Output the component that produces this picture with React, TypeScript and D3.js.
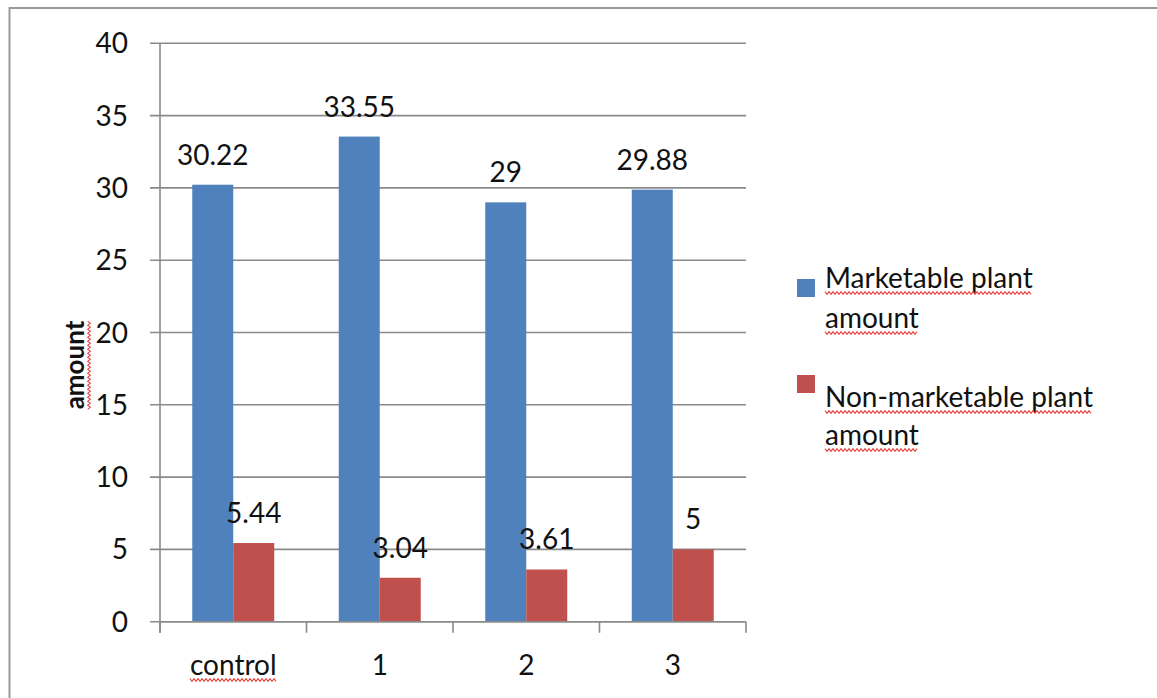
import { useEffect, useRef } from "react";
import * as d3 from "d3";

const categories = ["control", "1", "2", "3"];
const marketable = [30.22, 33.55, 29, 29.88];
const nonMarketable = [5.44, 3.04, 3.61, 5];
const seriesColors = ["#4F81BD", "#C0504D"];
const legendLines = [
  ["Marketable plant", "amount"],
  ["Non-marketable plant", "amount"],
];
const yTicks = [0, 5, 10, 15, 20, 25, 30, 35, 40];
const yTitle = "amount";
// words that carry the red spell-check wave in the original screenshot
const squiggled = new Set(["control", "amount", "Marketable plant", "Non-marketable plant"]);

const FONT = "Lato, 'Liberation Sans', sans-serif";

export default function App() {
  const svgRef = useRef<SVGSVGElement | null>(null);
  const width = 1157;
  const height = 698;

  useEffect(() => {
    if (!svgRef.current) return;
    const svg = d3.select(svgRef.current);
    svg.selectAll("*").remove();

    const left = 160;
    const right = 746;
    const top = 43.3;
    const bottom = 621.7;

    // frame
    svg
      .append("rect")
      .attr("x", 9.5)
      .attr("y", 8)
      .attr("width", width + 10)
      .attr("height", height + 10)
      .attr("fill", "white")
      .attr("stroke", "#9a9a9a")
      .attr("stroke-width", 2);

    const x = d3.scaleBand<string>().domain(categories).range([left, right]).padding(0);
    const x1 = d3
      .scaleBand<number>()
      .domain([0, 1])
      .range([0, x.bandwidth()])
      .paddingInner(0)
      .paddingOuter(0.787);
    const y = d3.scaleLinear().domain([0, 40]).range([bottom, top]);

    const wave = (g: d3.Selection<any, any, any, any>, x0: number, x1v: number, yy: number) => {
      const pts: [number, number][] = [];
      let up = true;
      for (let xx = x0; xx <= x1v; xx += 2) {
        pts.push([xx, yy + (up ? -1.3 : 1.3)]);
        up = !up;
      }
      g.append("path")
        .attr("d", d3.line()(pts))
        .attr("fill", "none")
        .attr("stroke", "#e8403a")
        .attr("stroke-width", 1.1);
    };

    const addText = (
      g: d3.Selection<any, any, any, any>,
      tx: number,
      ty: number,
      str: string,
      anchor: string,
      size: number,
      weight = "normal"
    ) => {
      const t = g
        .append("text")
        .attr("x", tx)
        .attr("y", ty)
        .attr("text-anchor", anchor)
        .attr("font-family", FONT)
        .attr("font-size", size)
        .attr("font-weight", weight)
        .attr("fill", "#111")
        .text(str);
      if (squiggled.has(str)) {
        const w = (t.node() as SVGTextElement).getComputedTextLength();
        const x0 = anchor === "middle" ? tx - w / 2 : anchor === "end" ? tx - w : tx;
        wave(g, x0, x0 + w, ty + 5);
      }
      return t;
    };

    // gridlines + y ticks
    const grid = svg.append("g");
    yTicks.forEach((v) => {
      grid
        .append("line")
        .attr("x1", left - 10)
        .attr("x2", right)
        .attr("y1", y(v))
        .attr("y2", y(v))
        .attr("stroke", "#8a8a8a")
        .attr("stroke-width", 1.6);
      addText(grid, left - 32, y(v) + 10, String(v), "end", 28);
    });

    // y axis line
    svg
      .append("line")
      .attr("x1", left)
      .attr("x2", left)
      .attr("y1", top)
      .attr("y2", bottom + 11)
      .attr("stroke", "#8a8a8a")
      .attr("stroke-width", 1.6);

    // bars
    const series = [marketable, nonMarketable];
    series.forEach((vals, si) => {
      svg
        .append("g")
        .selectAll("rect")
        .data(vals)
        .join("rect")
        .attr("x", (_, i) => x(categories[i])! + x1(si)!)
        .attr("width", x1.bandwidth())
        .attr("y", (d) => y(d))
        .attr("height", (d) => bottom - y(d))
        .attr("fill", seriesColors[si]);
    });

    // x axis with ticks on band edges
    const xg = svg.append("g");
    xg.append("line")
      .attr("x1", left)
      .attr("x2", right)
      .attr("y1", bottom)
      .attr("y2", bottom)
      .attr("stroke", "#8a8a8a")
      .attr("stroke-width", 1.6);
    [...categories.map((c) => x(c)!), right].forEach((tx) => {
      xg.append("line")
        .attr("x1", tx)
        .attr("x2", tx)
        .attr("y1", bottom)
        .attr("y2", bottom + 11)
        .attr("stroke", "#8a8a8a")
        .attr("stroke-width", 1.6);
    });
    categories.forEach((c) => {
      addText(xg, x(c)! + x.bandwidth() / 2, 675, c, "middle", 28);
    });

    // value labels
    const labels = svg.append("g");
    series.forEach((vals, si) => {
      vals.forEach((v, i) => {
        const cx = x(categories[i])! + x1(si)! + x1.bandwidth() / 2;
        addText(labels, cx, y(v) - 20, String(v), "middle", 28);
      });
    });

    // y title
    const yt = svg.append("g").attr("transform", `translate(84,365) rotate(-90)`);
    addText(yt, 0, 0, yTitle, "middle", 26, "bold");

    // legend
    const lg = svg.append("g");
    const legendTop = [279, 375];
    const textBase = [
      [288, 328],
      [407, 445],
    ];
    legendLines.forEach((lines, si) => {
      lg.append("rect")
        .attr("x", 797)
        .attr("y", legendTop[si])
        .attr("width", 18)
        .attr("height", 18)
        .attr("fill", seriesColors[si]);
      lines.forEach((ln, li) => {
        addText(lg, 825, textBase[si][li], ln, "start", 28);
      });
    });
  }, []);

  return (
    <svg
      ref={svgRef}
      width={width}
      height={height}
      style={{ position: "absolute", left: 0, top: 0, background: "white" }}
    />
  );
}
